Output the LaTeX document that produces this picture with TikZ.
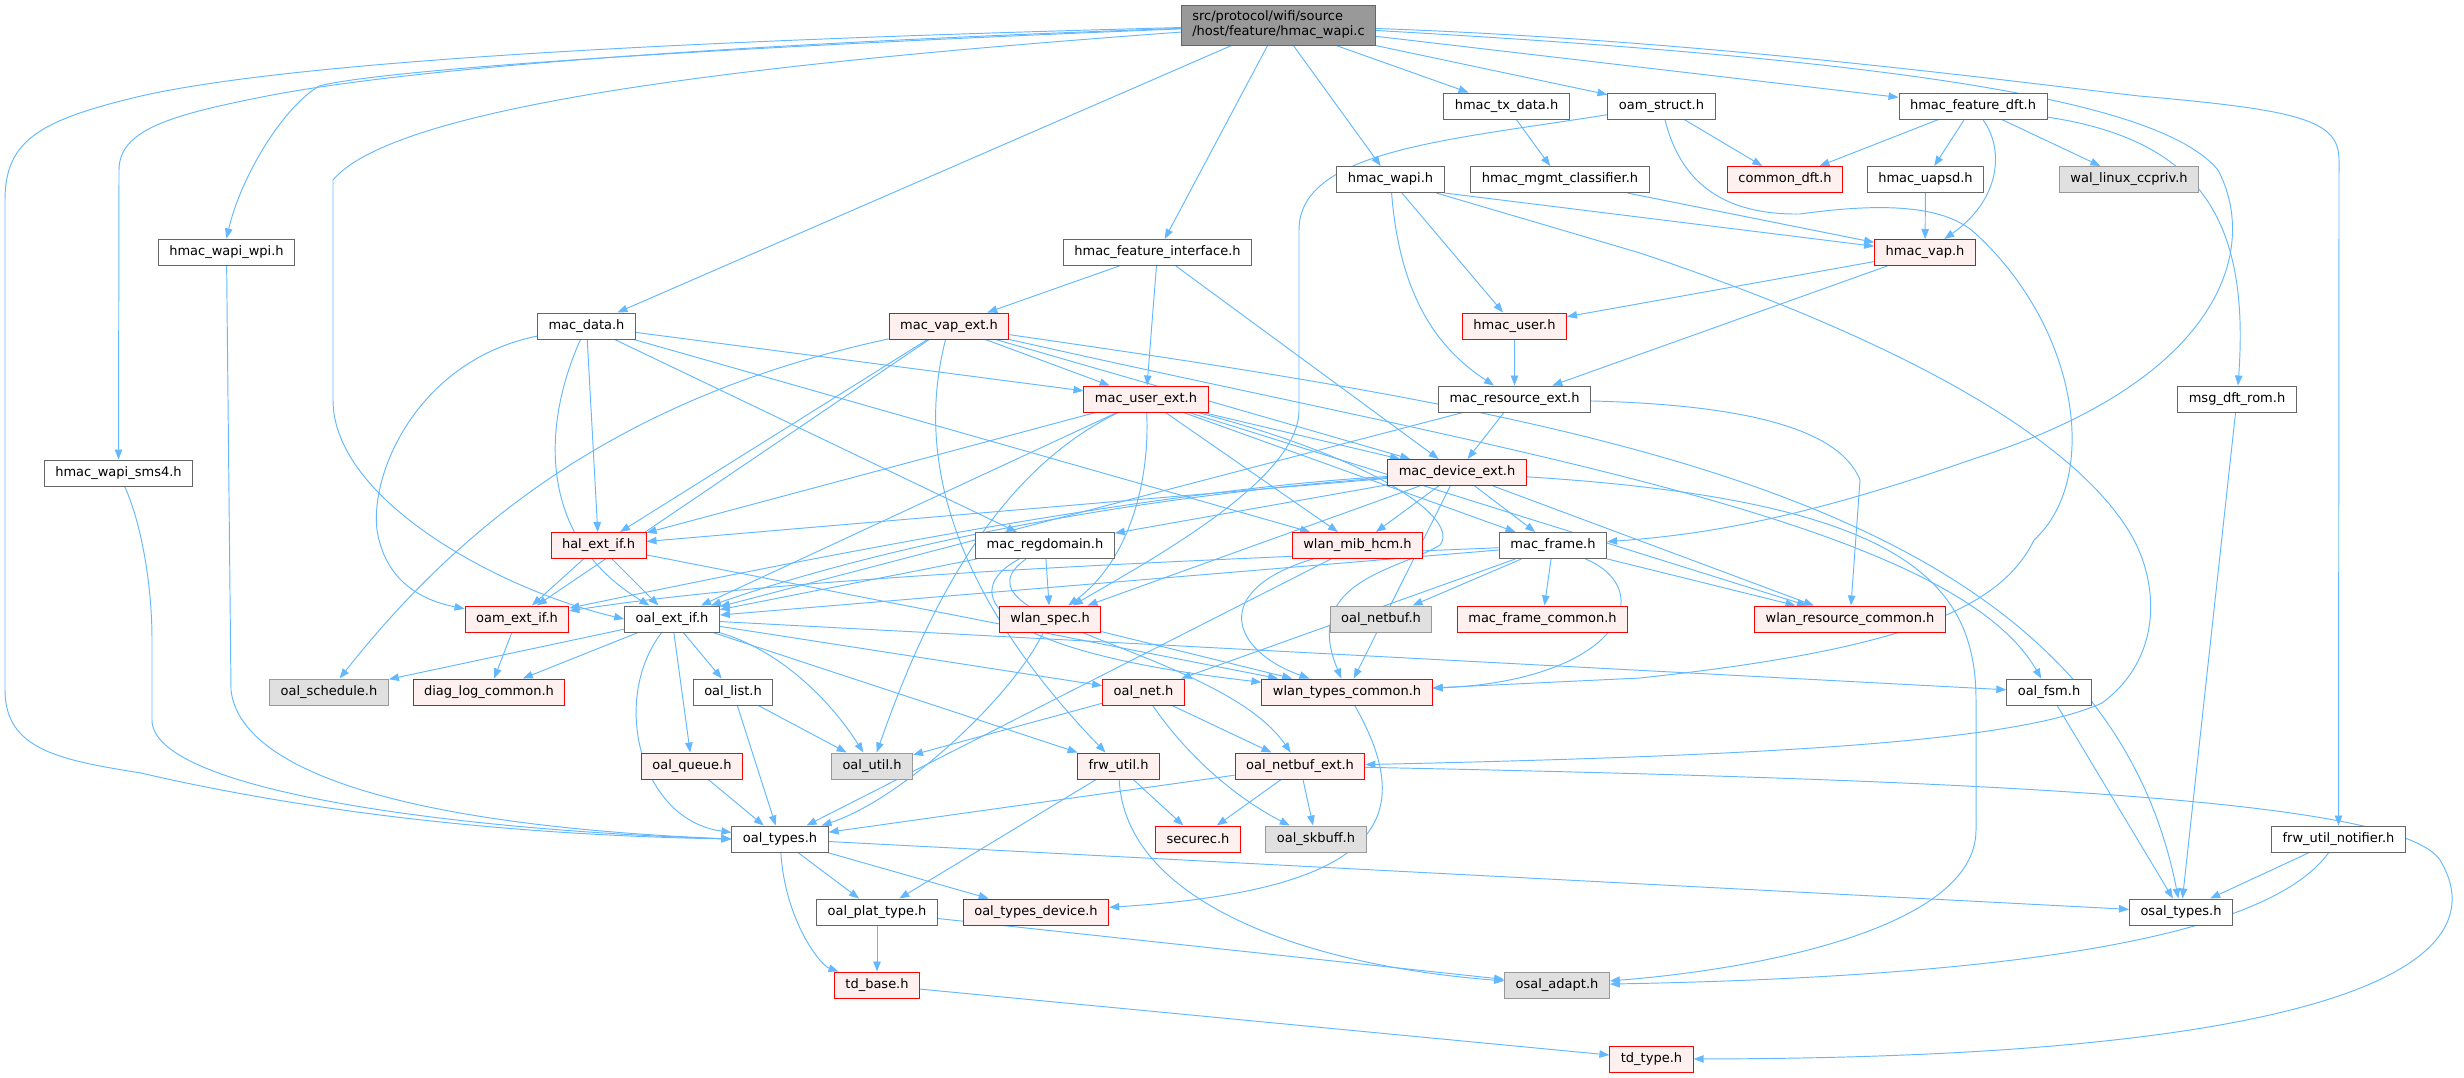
\documentclass[tikz,border=0pt]{standalone}
\usepackage{fontspec}
\setmainfont{DejaVu Sans}
\usetikzlibrary{arrows.meta,backgrounds}
\definecolor{edgeblue}{HTML}{63B8FF}
\definecolor{boxgray}{HTML}{666666}
\definecolor{maingray}{HTML}{999999}
\definecolor{extline}{HTML}{999999}
\definecolor{extfill}{HTML}{E0E0E0}
\definecolor{cutfill}{HTML}{FFF0F0}
\begin{document}
\begin{tikzpicture}[x=1pt, y=-1pt,
    >={Triangle[length=10pt,width=7.5pt]},
    hdr/.style={draw=boxgray, fill=white, line width=1pt, minimum height=26pt,
        inner xsep=11pt, inner ysep=0pt, font=\fontsize{13}{15}\selectfont},
    hdrcut/.style={hdr, draw=red, fill=cutfill},
    hdrext/.style={hdr, draw=extline, fill=extfill},
    incl/.style={->, draw=edgeblue, line width=0.95pt}]
    \useasboundingbox (0,0) rectangle (2464,1077);

    \node[hdr, fill=maingray, align=left, minimum height=40pt] (main) at (1278.5,25) {src/protocol/wifi/source\\/host/feature/hmac\_wapi.c};
    \node[hdr] (wpi) at (226.5,252) {hmac\_wapi\_wpi.h};
    \node[hdr] (sms4) at (118.5,473) {hmac\_wapi\_sms4.h};
    \node[hdr] (mdata) at (586.5,326) {mac\_data.h};
    \node[hdr] (htx) at (1506.5,106) {hmac\_tx\_data.h};
    \node[hdr] (oams) at (1661.5,106) {oam\_struct.h};
    \node[hdr] (hwapi) at (1390.5,179.5) {hmac\_wapi.h};
    \node[hdr] (hmgmt) at (1560,179.5) {hmac\_mgmt\_classifier.h};
    \node[hdr] (hfi) at (1157.5,252.5) {hmac\_feature\_interface.h};
    \node[hdrcut] (mvap) at (949,326) {mac\_vap\_ext.h};
    \node[hdrcut] (huser) at (1514.5,326) {hmac\_user.h};
    \node[hdrcut] (muser) at (1146,399) {mac\_user\_ext.h};
    \node[hdr] (mres) at (1514.5,399) {mac\_resource\_ext.h};
    \node[hdrcut] (mdev) at (1457,472.5) {mac\_device\_ext.h};
    \node[hdr] (hfdft) at (1973,106) {hmac\_feature\_dft.h};
    \node[hdrcut] (cdft) at (1785,179.5) {common\_dft.h};
    \node[hdr] (huapsd) at (1925.5,179.5) {hmac\_uapsd.h};
    \node[hdrext] (wal) at (2129,179.5) {wal\_linux\_ccpriv.h};
    \node[hdrcut] (hvap) at (1925,252.5) {hmac\_vap.h};
    \node[hdr] (msgdft) at (2237,399) {msg\_dft\_rom.h};
    \node[hdrcut] (hal) at (598.5,545.5) {hal\_ext\_if.h};
    \node[hdr] (mreg) at (1045,545.5) {mac\_regdomain.h};
    \node[hdrcut] (wmib) at (1357.5,545.5) {wlan\_mib\_hcm.h};
    \node[hdr] (mframe) at (1553,545.5) {mac\_frame.h};
    \node[hdrcut] (oamext) at (517,619) {oam\_ext\_if.h};
    \node[hdr] (oalext) at (672,619) {oal\_ext\_if.h};
    \node[hdrcut] (wspec) at (1050,619) {wlan\_spec.h};
    \node[hdrext] (onetbuf) at (1381,619) {oal\_netbuf.h};
    \node[hdrcut] (mfcommon) at (1542.5,619) {mac\_frame\_common.h};
    \node[hdrcut] (wres) at (1850,619) {wlan\_resource\_common.h};
    \node[hdrext] (osched) at (329,692) {oal\_schedule.h};
    \node[hdrcut] (diag) at (489,692) {diag\_log\_common.h};
    \node[hdr] (olist) at (733,692) {oal\_list.h};
    \node[hdrcut] (onet) at (1143.5,692) {oal\_net.h};
    \node[hdrcut] (wtypes) at (1347,692) {wlan\_types\_common.h};
    \node[hdr] (ofsm) at (2049,692) {oal\_fsm.h};
    \node[hdrcut] (oqueue) at (692,766) {oal\_queue.h};
    \node[hdrext] (outil) at (872,766) {oal\_util.h};
    \node[hdrcut] (frwu) at (1118.5,766) {frw\_util.h};
    \node[hdrcut] (onbext) at (1300,766) {oal\_netbuf\_ext.h};
    \node[hdr] (otypes) at (780,839) {oal\_types.h};
    \node[hdrcut] (secure) at (1198,839) {securec.h};
    \node[hdrext] (oskb) at (1316,839) {oal\_skbuff.h};
    \node[hdr] (frwn) at (2338.5,839) {frw\_util\_notifier.h};
    \node[hdr] (oplat) at (877,912) {oal\_plat\_type.h};
    \node[hdrcut] (otdev) at (1036,912) {oal\_types\_device.h};
    \node[hdr] (osaltypes) at (2181,912) {osal\_types.h};
    \node[hdrcut] (tdbase) at (877,985) {td\_base.h};
    \node[hdrext] (osaladapt) at (1557,985) {osal\_adapt.h};
    \node[hdrcut] (tdtype) at (1651.5,1059) {td\_type.h};

    \begin{pgfonlayer}{background}
    \draw[incl] (main) .. controls (700,40) and (300,60) .. (141,96) .. controls (40,120) and (5,140) .. (5,200) -- (5,690) .. controls (5,750) and (60,760) .. (141,773) .. controls (300,810) and (500,835) .. (otypes.west);
    \draw[incl] (main) .. controls (700,45) and (400,70) .. (267,96) .. controls (170,115) and (119,130) .. (119,170) -- (sms4.north);
    \draw[incl] (main) .. controls (700,48) and (380,70) .. (319,86) .. controls (280,110) and (240,180) .. (wpi.north);
    \draw[incl] (main) .. controls (800,60) and (400,100) .. (333,180) -- (333,400) .. controls (333,500) and (500,590) .. (oalext.west);
    \draw[incl] (main) -- (mdata);
    \draw[incl] (main) -- (hfi);
    \draw[incl] (main) -- (hwapi);
    \draw[incl] (main) -- (htx);
    \draw[incl] (main) -- (oams);
    \draw[incl] (main) -- (hfdft);
    \draw[incl] (main) .. controls (1900,60) and (2160,100) .. (2218,170) .. controls (2260,250) and (2220,380) .. (1976,458) .. controls (1800,520) and (1700,535) .. (mframe);
    \draw[incl] (main) .. controls (1700,40) and (2000,80) .. (2139,96) .. controls (2300,110) and (2339,120) .. (2339,160) -- (frwn.north);

    \draw[incl] (wpi) -- (231,690) .. controls (240,770) and (400,825) .. (otypes.west);
    \draw[incl] (sms4) .. controls (140,520) and (152,580) .. (152,640) -- (152,720) .. controls (152,790) and (450,830) .. (otypes.west);

    \draw[incl] (htx) -- (hmgmt);
    \draw[incl] (hmgmt) -- (hvap);
    \draw[incl] (oams) -- (cdft);
    \draw[incl] (oams) .. controls (1450,140) and (1299,150) .. (1299,230) -- (1299,410) .. controls (1299,480) and (1150,560) .. (wspec);
    \draw[incl] (oams) .. controls (1680,180) and (1720,215) .. (1800,214) .. controls (1900,200) and (1950,210) .. (1976,234) .. controls (2080,330) and (2100,480) .. (2034,540) .. controls (2000,610) and (1900,650) .. (1640,678) -- (wtypes);
    \draw[incl] (hfdft) -- (cdft);
    \draw[incl] (hfdft) -- (huapsd);
    \draw[incl] (hfdft) -- (wal);
    \draw[incl] (hfdft) .. controls (2005,150) and (2000,200) .. (hvap);
    \draw[incl] (hfdft) .. controls (2200,140) and (2250,220) .. (msgdft);
    \draw[incl] (huapsd) -- (hvap);
    \draw[incl] (hwapi) -- (huser);
    \draw[incl] (hwapi.south east) -- (hvap);
    \draw[incl] (hwapi) .. controls (1400,300) and (1440,350) .. (mres);
    \draw[incl] (hwapi) -- (1640,253) .. controls (1900,340) and (2080,440) .. (2134,540) .. controls (2160,590) and (2160,660) .. (2102,703) .. controls (2020,740) and (1800,755) .. (onbext);
    \draw[incl] (hvap) -- (huser);
    \draw[incl] (hvap) -- (mres);
    \draw[incl] (huser) -- (mres);
    \draw[incl] (hfi) -- (mvap);
    \draw[incl] (hfi) -- (muser);
    \draw[incl] (hfi) -- (mdev);
    \draw[incl] (msgdft) -- (osaltypes);
    \draw[incl] (frwn) -- (osaltypes);
    \draw[incl] (frwn) .. controls (2280,920) and (2100,975) .. (osaladapt);

    \draw[incl] (mres) -- (mdev);
    \draw[incl] (mres) .. controls (1750,405) and (1840,430) .. (1860,480) -- (wres);
    \draw[incl] (mres) -- (oalext);

    \draw[incl] (mvap) -- (muser);
    \draw[incl] (mvap) -- (mdev);
    \draw[incl] (mvap) -- (hal);
    \draw[incl] (mvap) -- (oamext);
    \draw[incl] (mvap) .. controls (650,390) and (480,500) .. (osched);
    \draw[incl] (mvap) .. controls (925,420) and (920,560) .. (frwu);
    \draw[incl] (mvap) .. controls (1500,450) and (1950,520) .. (ofsm);
    \draw[incl] (mvap) .. controls (1600,420) and (2100,500) .. (osaltypes);

    \draw[incl] (muser) -- (hal);
    \draw[incl] (muser) -- (oalext);
    \draw[incl] (muser) .. controls (1150,480) and (1130,560) .. (wspec);
    \draw[incl] (muser) .. controls (1000,470) and (930,600) .. (outil);
    \draw[incl] (muser) -- (wmib);
    \draw[incl] (muser) -- (mdev);
    \draw[incl] (muser) -- (mframe);
    \draw[incl] (muser) -- (wres);
    \draw[incl] (muser) .. controls (1380,460) and (1460,520) .. (1440,545) .. controls (1400,570) and (1300,580) .. (wtypes);

    \draw[incl] (mdata) -- (muser);
    \draw[incl] (mdata) -- (wmib);
    \draw[incl] (mdata) -- (mreg);
    \draw[incl] (mdata) -- (hal);
    \draw[incl] (mdata) .. controls (540,430) and (540,540) .. (oalext);
    \draw[incl] (mdata) .. controls (420,360) and (370,470) .. (377,530) .. controls (385,580) and (420,600) .. (oamext);

    \draw[incl] (mdev) -- (hal);
    \draw[incl] (mdev) -- (mreg);
    \draw[incl] (mdev) -- (wmib);
    \draw[incl] (mdev) -- (mframe);
    \draw[incl] (mdev) -- (wspec);
    \draw[incl] (mdev) .. controls (1150,490) and (800,560) .. (oamext);
    \draw[incl] (mdev) .. controls (1150,495) and (900,540) .. (oalext);
    \draw[incl] (mdev) -- (wres);
    \draw[incl] (mdev) -- (wtypes);
    \draw[incl] (mdev) .. controls (1900,500) and (1976,580) .. (1976,700) -- (1976,830) .. controls (1976,930) and (1750,970) .. (osaladapt);

    \draw[incl] (mreg) -- (oalext);
    \draw[incl] (mreg) -- (wspec);
    \draw[incl] (mreg) .. controls (960,590) and (980,650) .. (wtypes);
    \draw[incl] (mreg) .. controls (940,620) and (1220,650) .. (onbext);

    \draw[incl] (hal) -- (oamext);
    \draw[incl] (hal) -- (oalext);
    \draw[incl] (hal) -- (wtypes);
    \draw[incl] (oamext) -- (diag);

    \draw[incl] (oalext) -- (osched);
    \draw[incl] (oalext) -- (diag);
    \draw[incl] (oalext) -- (olist);
    \draw[incl] (oalext) -- (oqueue);
    \draw[incl] (oalext) .. controls (780,650) and (830,700) .. (outil);
    \draw[incl] (oalext) -- (onet);
    \draw[incl] (oalext) -- (frwu);
    \draw[incl] (oalext) -- (ofsm);
    \draw[incl] (oalext) .. controls (610,700) and (640,820) .. (otypes);

    \draw[incl] (olist) -- (outil);
    \draw[incl] (olist) -- (otypes);
    \draw[incl] (oqueue) -- (otypes);
    \draw[incl] (wspec) .. controls (1010,700) and (900,800) .. (otypes);
    \draw[incl] (wspec) -- (wtypes);
    \draw[incl] (wmib) .. controls (1210,590) and (1230,650) .. (wtypes);
    \draw[incl] (wmib) -- (otypes);

    \draw[incl] (mframe) -- (onetbuf);
    \draw[incl] (mframe) -- (mfcommon);
    \draw[incl] (mframe) -- (onet);
    \draw[incl] (mframe) -- (wres);
    \draw[incl] (mframe) -- (oalext);
    \draw[incl] (mframe) .. controls (1200,560) and (800,575) .. (oamext);
    \draw[incl] (mframe) .. controls (1660,590) and (1620,680) .. (wtypes);

    \draw[incl] (onet) -- (outil);
    \draw[incl] (onet) -- (onbext);
    \draw[incl] (onet) .. controls (1190,760) and (1240,800) .. (oskb);
    \draw[incl] (frwu) -- (secure);
    \draw[incl] (frwu) -- (oplat);
    \draw[incl] (frwu) .. controls (1125,900) and (1300,965) .. (osaladapt);
    \draw[incl] (onbext) -- (secure);
    \draw[incl] (onbext) -- (oskb);
    \draw[incl] (onbext) -- (otypes);
    \draw[incl] (onbext) .. controls (2000,780) and (2400,800) .. (2440,860) .. controls (2500,960) and (2350,1058) .. (tdtype);
    \draw[incl] (wtypes) .. controls (1420,820) and (1380,890) .. (otdev);
    \draw[incl] (ofsm) -- (osaltypes);

    \draw[incl] (otypes) -- (oplat);
    \draw[incl] (otypes) -- (otdev);
    \draw[incl] (otypes) .. controls (785,920) and (820,965) .. (tdbase);
    \draw[incl] (otypes) -- (osaltypes);
    \draw[incl] (oplat) -- (tdbase);
    \draw[incl] (oplat) -- (osaladapt);
    \draw[incl] (tdbase) -- (tdtype);
    \end{pgfonlayer}
\end{tikzpicture}
\end{document}
